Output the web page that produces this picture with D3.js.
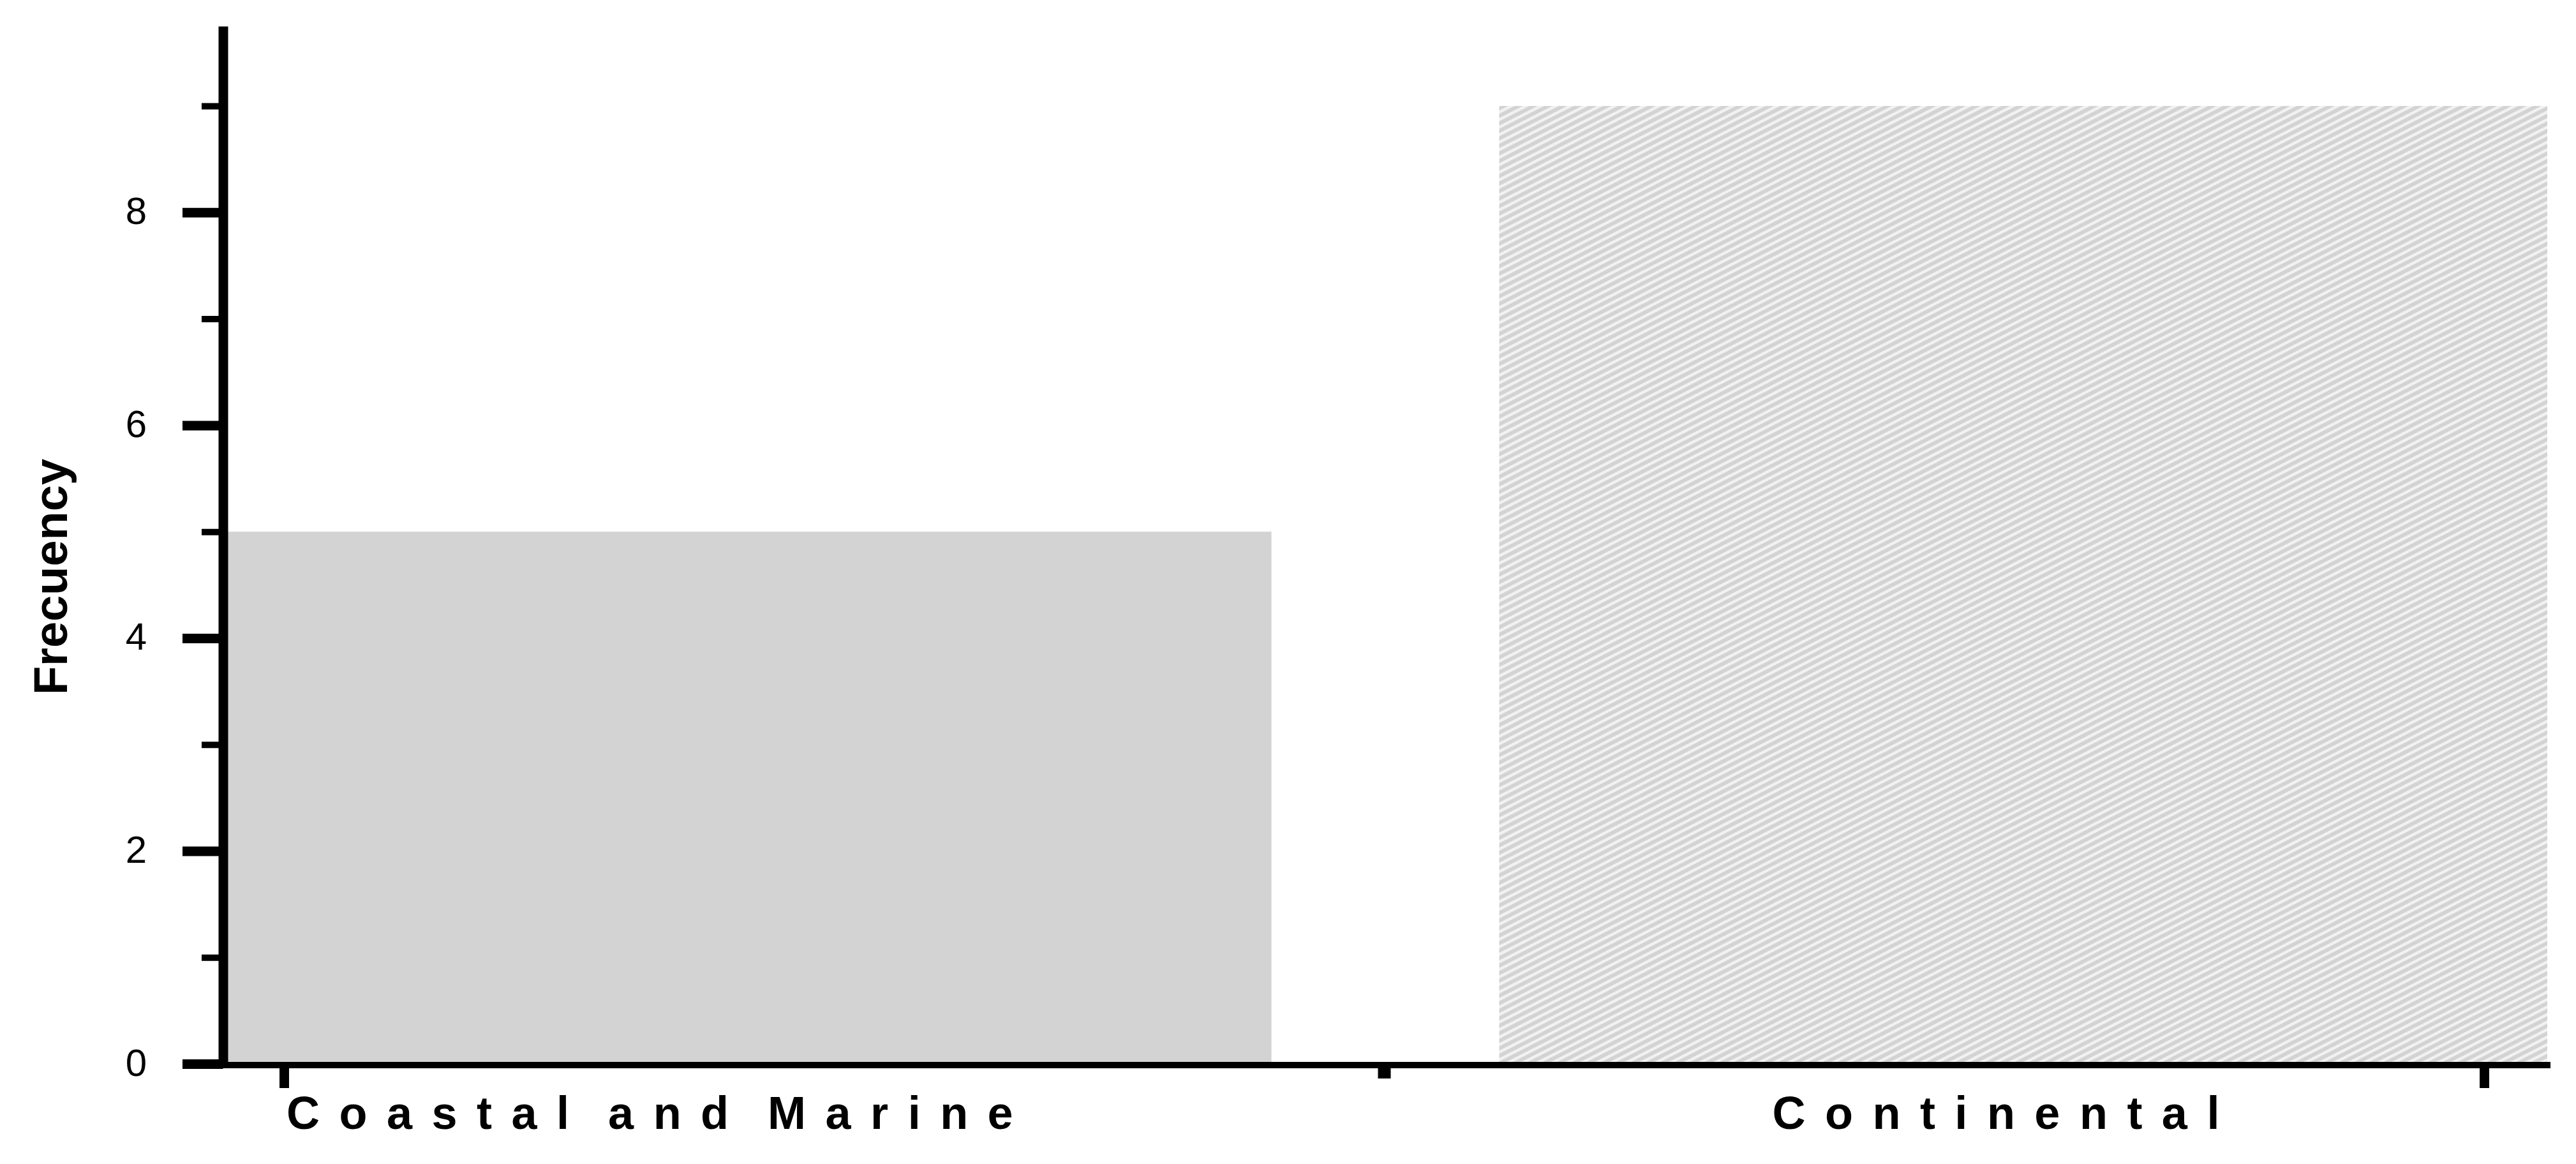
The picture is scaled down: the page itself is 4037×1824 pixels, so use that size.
<!DOCTYPE html>
<meta charset="utf-8">
<style>

    body {
        margin: 0;
        background: #fff;
    }

    text {
        fill: #000;
        font-family: "Liberation Sans", Arial, sans-serif;
    }

    .axis path, .axis line {
        stroke: #000;
        fill: none;
    }

    .y.axis.major line { stroke-width: 15; }
    .y.axis.minor line { stroke-width: 10; }
    .y.axis.major path { stroke-width: 15; }
    .y.axis text { font-size: 60px; }

    .x.axis line { stroke-width: 15; }

    .category {
        font-size: 72px;
        font-weight: bold;
        letter-spacing: 30.5px;
        word-spacing: -20px;
    }

    .ylabel {
        font-size: 74px;
        font-weight: bold;
    }

</style>
<body>
<script src="https://d3js.org/d3.v7.min.js"></script>
<script>

    var categories = ["Coastal and Marine", "Continental"];
    var frequencies = [5, 9];
    var yMajorTicks = [0, 2, 4, 6, 8];
    var yMinorTicks = [1, 3, 5, 7, 9];
    var xTickValues = [0, 1, 2];

    var width = 4037,
        height = 1824;

    var y = d3.scaleLinear()
        .domain([0, 9.75])
        .range([1667, 41]);

    var x = d3.scaleBand()
        .domain(categories)
        .range([350, 3992])
        .paddingInner(0.1785)
        .paddingOuter(0);

    // category ticks of the original sit apart from the bars
    var xTick = d3.scaleLinear()
        .domain([0, 2])
        .range([445, 3893]);

    var svg = d3.select("body").append("svg")
        .attr("width", width)
        .attr("height", height);

    var defs = svg.append("defs");
    var hatch = defs.append("pattern")
        .attr("id", "hatch")
        .attr("patternUnits", "userSpaceOnUse")
        .attr("width", 10.5)
        .attr("height", 10.5)
        .attr("patternTransform", "rotate(-27)");
    hatch.append("rect")
        .attr("width", 10.5)
        .attr("height", 10.5)
        .attr("fill", "#d3d3d3");
    hatch.append("rect")
        .attr("y", 3)
        .attr("width", 10.5)
        .attr("height", 4.5)
        .attr("fill", "#f2f2f2");

    var data = categories.map(function(c, i) {
        return {category: c, value: frequencies[i]};
    });

    svg.selectAll("rect.bar")
        .data(data)
        .enter().append("rect")
        .attr("class", "bar")
        .attr("x", function(d) { return x(d.category); })
        .attr("width", x.bandwidth())
        .attr("y", function(d) { return y(d.value); })
        .attr("height", function(d) { return y(0) - y(d.value); })
        .attr("fill", function(d, i) { return i === 0 ? "#d3d3d3" : "url(#hatch)"; });

    // y axis
    var yAxisX = 349.5;

    var yMinor = svg.append("g")
        .attr("class", "y axis minor")
        .attr("transform", "translate(" + yAxisX + ",0)")
        .call(d3.axisLeft(y).tickValues(yMinorTicks).tickSize(33.5).tickFormat(""));
    yMinor.select(".domain").remove();

    var yMajor = svg.append("g")
        .attr("class", "y axis major")
        .attr("transform", "translate(" + yAxisX + ",0)")
        .call(d3.axisLeft(y)
            .tickValues(yMajorTicks)
            .tickSize(63.5)
            .tickSizeOuter(0)
            .tickPadding(56)
            .tickFormat(d3.format("d")));
    yMajor.selectAll(".tick text").attr("dy", "0.3em");

    // x axis
    var xAxisY = 1669;

    svg.append("line")
        .attr("class", "axis")
        .attr("x1", yAxisX - 7.5)
        .attr("x2", x.range()[1] + 5)
        .attr("y1", xAxisY)
        .attr("y2", xAxisY)
        .attr("stroke", "#000")
        .attr("stroke-width", 10);

    var xAxis = svg.append("g")
        .attr("class", "x axis")
        .attr("transform", "translate(0," + xAxisY + ")")
        .call(d3.axisBottom(xTick).tickValues(xTickValues).tickSize(36).tickSizeOuter(0).tickFormat(""));
    xAxis.select(".domain").remove();
    xAxis.selectAll(".tick")
        .filter(function(d) { return d === 1; })
        .select("line")
        .attr("y2", 21)
        .style("stroke-width", 20);

    // category labels, left aligned like the original
    var labelOffset = [99, 428];
    svg.selectAll("text.category")
        .data(categories)
        .enter().append("text")
        .attr("class", "category")
        .attr("x", function(d, i) { return x(d) + labelOffset[i]; })
        .attr("y", 1769)
        .text(function(d) { return d; });

    svg.append("text")
        .attr("class", "ylabel")
        .attr("transform", "translate(105,904) rotate(-90)")
        .style("text-anchor", "middle")
        .text("Frecuency");

</script>
